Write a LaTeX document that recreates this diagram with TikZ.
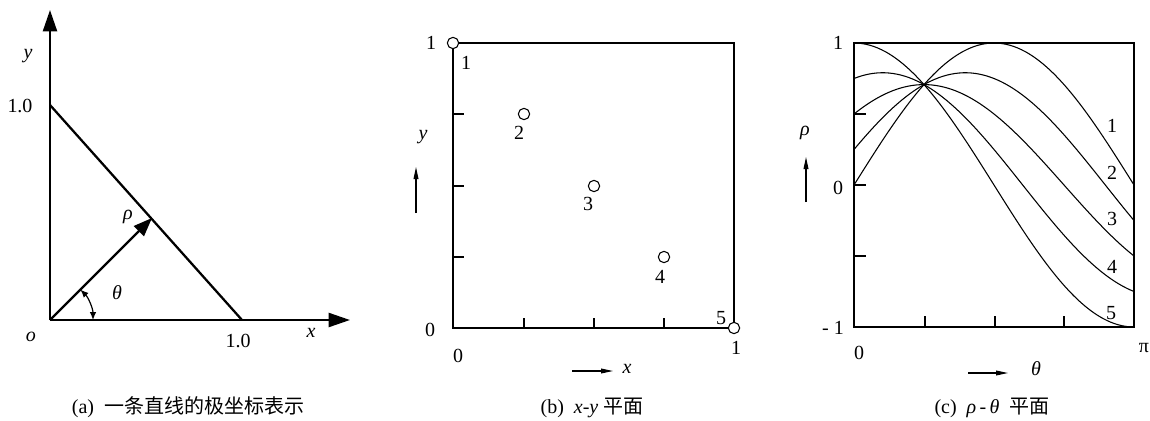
\documentclass[tikz,border=0pt]{standalone}
\usepackage{fontspec}
\setmainfont{Liberation Serif}
\newfontfamily\cjkfont{Noto Sans CJK SC}
\usepackage{tikz}
\usetikzlibrary{arrows.meta,positioning}
\definecolor{inkline}{RGB}{0,0,0}
\newcommand{\plotfont}{\fontsize{15}{17}\selectfont}
\tikzset{
  axisline/.style={draw=inkline, line width=1.7pt,
    -{Triangle[length=16pt, width=10.5pt]}},
  rholine/.style={draw=inkline, line width=1.7pt,
    -{Triangle[length=14pt, width=10.5pt]}},
  heavyline/.style={draw=inkline, line width=1.7pt},
  anglearc/.style={draw=inkline, line width=0.9pt,
    {Latex[length=6pt, width=5pt]}-{Latex[length=6pt, width=5pt]}},
  frame/.style={draw=inkline, line width=0.8pt},
  tickmark/.style={draw=inkline, line width=0.8pt},
  curve/.style={draw=inkline, line width=0.8pt},
  dirarrow/.style={draw=inkline, line width=0.8pt,
    -{Triangle[length=9pt, width=3.6pt]}},
  sample/.style={circle, draw=inkline, fill=white, line width=0.8pt,
    minimum size=8.5pt, inner sep=0pt},
  lbl/.style={font=\plotfont, inner sep=0pt},
  caption/.style={font=\plotfont, inner sep=0pt}
}

\begin{document}
\begin{tikzpicture}[x=0.75pt, y=-0.75pt]
  \useasboundingbox (0,0) rectangle (1150,421);

  % (a) polar form of a line
  \coordinate (o) at (50,320);
  \coordinate (ytip) at (50,10);
  \coordinate (xtip) at (350,320);
  \coordinate (yone) at (50,105);
  \coordinate (xone) at (242,320);
  \coordinate (foot) at (152,218);
  \draw[axisline] (o) -- (ytip);
  \draw[axisline] (o) -- (xtip);
  \draw[heavyline] (yone) -- (xone);
  \draw[rholine] (o) -- (foot);
  \draw[anglearc] (93,320) arc[start angle=0, end angle=-45, radius=43];
  \node[lbl, font=\plotfont\itshape] (ya) at (28,56) {y};
  \node[lbl] (yonelbl) at (20,106) {1.0};
  \node[lbl, font=\plotfont\itshape] (rholbl) at (128,217) {ρ};
  \node[lbl, font=\plotfont\itshape] (thetalbl) at (117,293) {θ};
  \node[lbl, font=\plotfont\itshape] (olbl) at (31,337) {o};
  \node[lbl] (xonelbl) at (238,341) {1.0};
  \node[lbl, font=\plotfont\itshape] (xa) at (311,333) {x};
  \node[caption] (capa) at (188,407) {(a)\ \ {\cjkfont 一条直线的极坐标表示}};

  % (b) x-y plane
  \draw[frame] (453,43) rectangle (734,328);
  \foreach \ty in {114,186,257}
    \draw[tickmark] (453,\ty) -- (464,\ty);
  \foreach \tx in {524,594,664}
    \draw[tickmark] (\tx,328) -- (\tx,318);
  \node[sample] (p1) at (453,43) {};
  \node[sample] (p2) at (524,114) {};
  \node[sample] (p3) at (594,186) {};
  \node[sample] (p4) at (664,257) {};
  \node[sample] (p5) at (734,328) {};
  \node[lbl] (n1) at (466,63) {1};
  \node[lbl] (n2) at (519,133) {2};
  \node[lbl] (n3) at (588,204) {3};
  \node[lbl] (n4) at (660,277) {4};
  \node[lbl] (n5) at (721,318) {5};
  \node[lbl] (by1) at (431,43) {1};
  \node[lbl] (by0) at (430,330) {0};
  \node[lbl] (bx0) at (458,356) {0};
  \node[lbl] (bx1) at (736,348) {1};
  \node[lbl, font=\plotfont\itshape] (byl) at (423,137) {y};
  \coordinate (byfrom) at (416,213);
  \coordinate (byto) at (416,167);
  \draw[dirarrow] (byfrom) -- (byto);
  \coordinate (bxfrom) at (572,371);
  \coordinate (bxto) at (613,371);
  \draw[dirarrow] (bxfrom) -- (bxto);
  \node[lbl, font=\plotfont\itshape] (bxl) at (627,369) {x};
  \node[caption] (capb) at (592,408)
    {(b)\ \ \textit{x-y}\ {\cjkfont 平面}};

  % (c) rho-theta plane
  \draw[frame] (854,43) rectangle (1134,327);
  \foreach \ty in {114,185,256}
    \draw[tickmark] (854,\ty) -- (866,\ty);
  \foreach \tx in {925,995,1064}
    \draw[tickmark] (\tx,327) -- (\tx,316);
  \foreach \cx/\sy in {0/1, 0.25/0.75, 0.5/0.5, 0.75/0.25, 1/0}
    \draw[curve] plot[variable=\t, domain=0:180, samples=73, smooth]
      ({854+\t*14/9}, {185-142*(\cx*cos(\t)+\sy*sin(\t))});
  \node[lbl] (c1) at (1112,126) {1};
  \node[lbl] (c2) at (1112,173) {2};
  \node[lbl] (c3) at (1112,219) {3};
  \node[lbl] (c4) at (1112,267) {4};
  \node[lbl] (c5) at (1111,313) {5};
  \node[lbl] (cy1) at (838,43) {1};
  \node[lbl] (cy0) at (838,188) {0};
  \node[lbl] (cym) at (833,328) {- 1};
  \node[lbl] (cx0) at (859,353) {0};
  \node[lbl] (cxpi) at (1144,348) {π};
  \node[lbl, font=\plotfont\itshape] (cyl) at (805,133) {ρ};
  \coordinate (cyfrom) at (806,202);
  \coordinate (cyto) at (806,157);
  \draw[dirarrow] (cyfrom) -- (cyto);
  \coordinate (cxfrom) at (968,373);
  \coordinate (cxto) at (1008,373);
  \draw[dirarrow] (cxfrom) -- (cxto);
  \node[lbl, font=\plotfont\itshape] (cxl) at (1036,369) {θ};
  \node[caption] (capc) at (992,408)
    {(c)\ \ \textit{ρ\,-\,θ}\ \ {\cjkfont 平面}};
\end{tikzpicture}
\end{document}
